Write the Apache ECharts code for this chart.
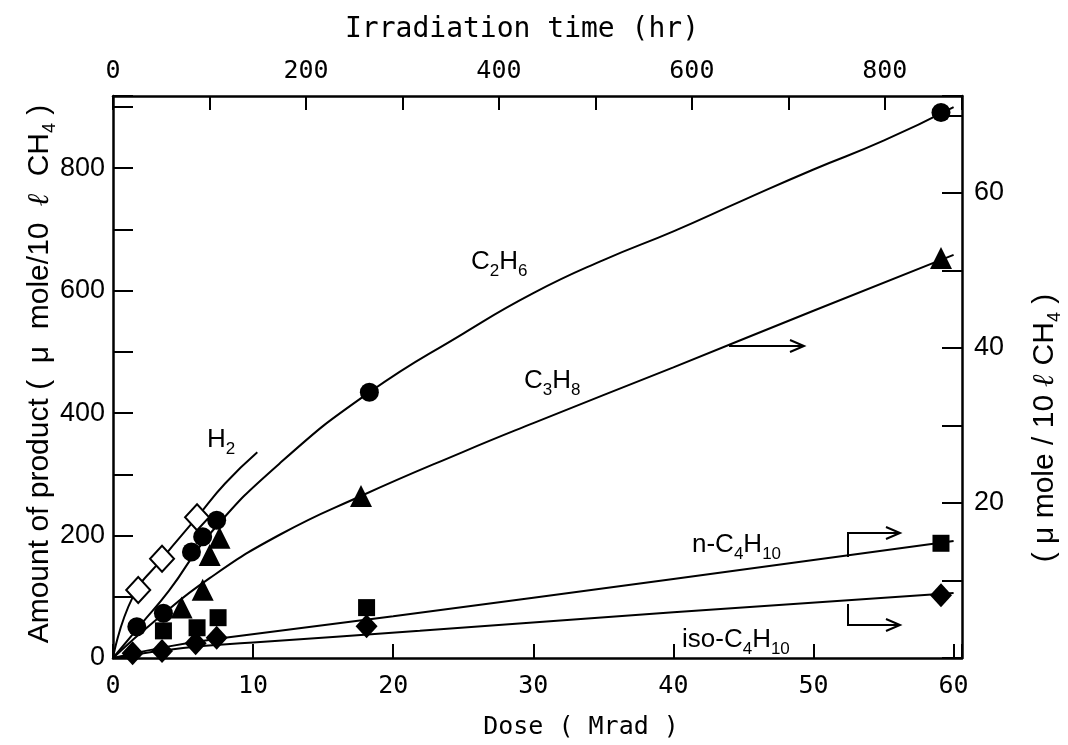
<!DOCTYPE html>
<html><head><meta charset="utf-8">
<script src="https://cdn.jsdelivr.net/npm/echarts@6/dist/echarts.min.js"></script>
<style>html,body{margin:0;padding:0;background:#fff}#c{width:1068px;height:745px}</style>
</head><body><div id="c"></div>
<script>
// ---- data (dose in Mrad; left axis: umole/10 l CH4; right axis for C3H8 and C4) ----
const h2Dose = [1.8, 3.5, 6.0];
const h2Val = [111, 162, 230];
const h2CurveDose = [0, 1.4, 3.5, 6, 8, 10.3];
const h2CurveVal = [0, 99, 162, 230, 285, 336];

const c2Dose = [1.7, 3.6, 5.6, 6.4, 7.4, 18.3, 59.1];
const c2Val = [51, 73, 173, 198, 225, 434, 891];
const c2CurveDose = [0, 2, 4, 7, 12, 18.3, 25, 30, 35, 40, 45, 50, 55, 60];
const c2CurveVal = [0, 55, 110, 205, 320, 434, 530, 596, 650, 697, 748, 798, 845, 900];

const c3Dose = [4.9, 6.4, 6.9, 7.6, 17.7, 59.1];
const c3Val = [6.5, 8.8, 13.3, 15.5, 20.9, 51.6];
const c3CurveDose = [0, 3, 6.9, 11.9, 17.7, 25, 30, 40, 50, 60];
const c3CurveVal = [0, 4.8, 10.3, 15.9, 20.9, 26.6, 30.3, 37.5, 44.8, 52];

const nC4Dose = [3.6, 6.0, 7.5, 18.1, 59.1];
const nC4Val = [3.5, 3.9, 5.2, 6.5, 14.8];
const nC4CurveDose = [0, 4, 8, 20, 40, 60];
const nC4CurveVal = [0, 1.5, 2.6, 5.4, 10.2, 15.1];

const isoDose = [1.4, 3.5, 5.9, 7.4, 18.1, 59.1];
const isoVal = [0.6, 0.9, 1.9, 2.6, 4.1, 8.1];
const isoCurveDose = [0, 5, 10, 21.9, 40, 60];
const isoCurveVal = [0, 1.3, 2.0, 3.5, 5.9, 8.4];

const doseRange = [0, 60.6];
const hourRange = [0, 880];
const leftRange = [0, 918];
const rightRange = [0, 72.5];

const zip = (a, b) => a.map((v, i) => [v, b[i]]);
const chart = echarts.init(document.getElementById('c'), null, {renderer: 'canvas'});
const mono = 'DejaVu Sans Mono';
const sans = 'Liberation Sans, Arial, sans-serif';
const axisLine = {show: true, onZero: false, lineStyle: {color: '#000', width: 2.5}};
const ticks = (len) => ({show: true, inside: true, length: len, lineStyle: {color: '#000', width: 2}});

function scatter(name, x, y, yIdx, symbol, size, open) {
  return {type: 'scatter', name, xAxisIndex: 0, yAxisIndex: yIdx, data: zip(x, y), symbol, symbolSize: size,
    itemStyle: open ? {color: '#fff', borderColor: '#000', borderWidth: 2, opacity: 1} : {color: '#000', opacity: 1}, z: 5};
}
function curve(name, x, y, yIdx) {
  return {type: 'line', name, xAxisIndex: 0, yAxisIndex: yIdx, data: zip(x, y), smooth: 0.5,
    showSymbol: false, lineStyle: {color: '#000', width: 2}, z: 3};
}
const chemRich = {s: {fontSize: 17, fontFamily: 'Liberation Sans', verticalAlign: 'bottom', lineHeight: 17}};
function label(x, y, txt) {
  return {type: 'text', x, y, style: {text: txt, font: '26px Liberation Sans', lineHeight: 36, fill: '#000',
    rich: chemRich, verticalAlign: 'middle'}};
}
function arrow(pts) {
  const [x2, y2] = pts[pts.length - 1];
  return [
    {type: 'polyline', shape: {points: pts}, style: {stroke: '#000', lineWidth: 2, fill: null}},
    {type: 'polyline', shape: {points: [[x2 - 14, y2 - 6], [x2, y2], [x2 - 14, y2 + 6]]}, style: {stroke: '#000', lineWidth: 2, fill: null}}
  ];
}
const titleRich = {
  l: {fontSize: 30, fontStyle: 'italic', fontWeight: 'bold', fontFamily: 'DejaVu Serif'},
  s: {fontSize: 18, verticalAlign: 'bottom', lineHeight: 18}
};

chart.setOption({
  animation: false,
  grid: {left: 113, right: 106, top: 96, bottom: 87},
  xAxis: [
    {type: 'value', position: 'bottom', min: doseRange[0], max: doseRange[1], interval: 10,
      axisLine, axisTick: ticks(14), splitLine: {show: false},
      axisLabel: {color: '#000', fontFamily: mono, fontSize: 25, margin: 16,
        formatter: v => (v <= 60 ? String(v) : '')}},
    {type: 'value', position: 'top', min: hourRange[0], max: hourRange[1], interval: 100,
      axisLine, axisTick: ticks(14), splitLine: {show: false},
      axisLabel: {color: '#000', fontFamily: mono, fontSize: 25, margin: 12,
        formatter: v => (v % 200 === 0 ? String(v) : '')}}
  ],
  yAxis: [
    {type: 'value', position: 'left', min: leftRange[0], max: leftRange[1], interval: 100,
      axisLine, axisTick: ticks(20), splitLine: {show: false},
      axisLabel: {color: '#000', fontFamily: sans, fontSize: 27, margin: 8,
        formatter: v => (v % 200 === 0 ? String(v) : '')}},
    {type: 'value', position: 'right', min: rightRange[0], max: rightRange[1], interval: 10,
      axisLine, axisTick: ticks(20), splitLine: {show: false},
      axisLabel: {color: '#000', fontFamily: sans, fontSize: 27, margin: 12,
        formatter: v => (v > 0 && v % 20 === 0 ? String(v) : '')}}
  ],
  series: [
    curve('H2 fit', h2CurveDose, h2CurveVal, 0),
    curve('C2H6 fit', c2CurveDose, c2CurveVal, 0),
    curve('C3H8 fit', c3CurveDose, c3CurveVal, 1),
    curve('n-C4H10 fit', nC4CurveDose, nC4CurveVal, 1),
    curve('iso-C4H10 fit', isoCurveDose, isoCurveVal, 1),
    scatter('C3H8', c3Dose, c3Val, 1, 'triangle', 22, false),
    scatter('n-C4H10', nC4Dose, nC4Val, 1, 'rect', 17, false),
    scatter('iso-C4H10', isoDose, isoVal, 1, 'diamond', [22, 24], false),
    scatter('C2H6', c2Dose, c2Val, 0, 'circle', 19, false),
    scatter('H2', h2Dose, h2Val, 0, 'diamond', [24, 26], true)
  ],
  graphic: [
    {type: 'text', x: 522, y: 30, style: {text: 'Irradiation time (hr)', font: '28px ' + mono, fill: '#000',
      align: 'center', verticalAlign: 'middle'}},
    {type: 'text', x: 581, y: 727, style: {text: 'Dose ( Mrad )', font: '25px ' + mono, fill: '#000',
      align: 'center', verticalAlign: 'middle'}},
    {type: 'text', x: 40, y: 374, rotation: Math.PI / 2,
      style: {text: 'Amount of product (  μ  mole/10  {l|ℓ}  CH{s|4} )', font: '30px ' + sans, lineHeight: 38, fill: '#000',
        rich: titleRich, align: 'center', verticalAlign: 'middle'}},
    {type: 'text', x: 1045, y: 428, rotation: Math.PI / 2,
      style: {text: '( μ mole / 10 {l|ℓ} CH{s|4} )', font: '30px ' + sans, lineHeight: 38, fill: '#000',
        rich: titleRich, align: 'center', verticalAlign: 'middle'}},
    label(207, 440, 'H{s|2}'),
    label(471, 262, 'C{s|2}H{s|6}'),
    label(524, 381, 'C{s|3}H{s|8}'),
    label(692, 545, 'n-C{s|4}H{s|10}'),
    label(682, 640, 'iso-C{s|4}H{s|10}'),
    ...arrow([[729, 346], [804, 346]]),
    ...arrow([[848, 557], [848, 533], [900, 533]]),
    ...arrow([[848, 604], [848, 625], [900, 625]])
  ]
});
</script></body></html>
